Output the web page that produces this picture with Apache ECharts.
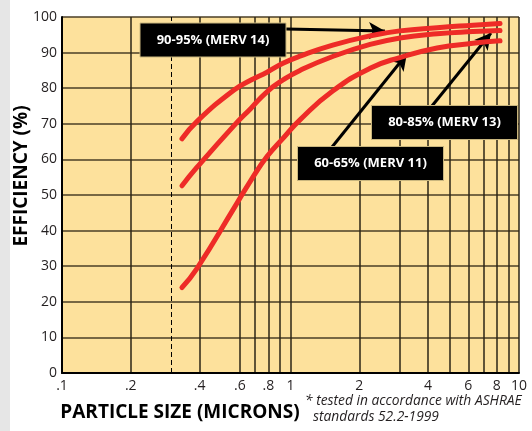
<!DOCTYPE html>
<html>
<head>
<meta charset="utf-8">
<title>MERV efficiency</title>
<script src="https://cdn.jsdelivr.net/npm/echarts@6/dist/echarts.min.js"></script>
<style>
html, body { margin: 0; padding: 0; background: #fff; }
#chart { width: 532px; height: 431px; }
</style>
</head>
<body>
<div id="chart"></div>
<script>
var sizes = [0.335, 0.39, 0.566, 0.672, 0.789, 0.927, 1.1, 1.53, 2.23, 3.01, 4.38, 6.29, 8.26];
// efficiency (%) per filter
var merv14 = [65.8, 70.7, 79.5, 82.3, 84.5, 87.0, 89.0, 92.1, 94.7, 96.1, 97.0, 97.7, 98.2];
var merv13 = [52.6, 57.8, 69.5, 74.4, 79.0, 82.3, 85.0, 88.9, 92.3, 94.1, 95.3, 95.9, 96.2];
var merv11 = [24.0, 29.4, 46.3, 54.2, 60.8, 65.9, 71.1, 79.2, 85.6, 88.6, 91.3, 92.6, 93.3];
// grid lines and labels of the log axis
var gridTicks = [0.1, 0.2, 0.4, 0.6, 0.7, 0.8, 0.9, 1, 2, 3, 4, 5, 6, 7, 8, 9, 10];
var xLabels = [0.1, 0.2, 0.4, 0.6, 0.8, 1, 2, 4, 6, 8, 10];

var myChart = echarts.init(document.getElementById('chart'));

function pairs(ys) {
	return sizes.map(function(x, i) {
		return [x, ys[i]];
	});
}

var FONT = 'Open Sans';
var RED = '#ee2b27';

var arrowStyle = {
	silent: true,
	symbol: ['none', 'arrow'],
	symbolSize: [13, 16],
	label: { show: false },
	lineStyle: { color: '#000', width: 3, type: 'solid' },
	emphasis: { disabled: true }
};

function curve(name, ys, markLine) {
	return {
		name: name,
		type: 'line',
		data: pairs(ys),
		smooth: true,
		showSymbol: false,
		silent: true,
		z: 5,
		lineStyle: { color: RED, width: 5, cap: 'round' },
		markLine: markLine
	};
}

// black label box (drawn over the arrow tails)
function box(cx, cy, text) {
	return {
		type: 'group',
		children: [{
			type: 'rect',
			z: 100,
			shape: { x: cx - 73, y: cy - 17, width: 146, height: 34 },
			style: { fill: '#000', stroke: '#c9b67e', lineWidth: 1 }
		}, {
			type: 'text',
			z: 101,
			x: cx,
			y: cy,
			style: {
				text: text,
				fill: '#fff',
				font: 'bold 13px "' + FONT + '"',
				textAlign: 'center',
				textVerticalAlign: 'middle'
			}
		}]
	};
}

var option = {
	animation: false,
	backgroundColor: '#fff',
	grid: {
		left: 62,
		right: 13,
		top: 17,
		bottom: 58,
		show: true,
		backgroundColor: '#fde19c',
		borderWidth: 0
	},
	xAxis: {
		type: 'log',
		logBase: 10,
		min: 0.1,
		max: 10,
		axisLine: { show: true, lineStyle: { color: '#000', width: 2 } },
		axisTick: { show: false, customValues: gridTicks },
		splitLine: { show: true, lineStyle: { color: '#2b2416', width: 1.5 } },
		axisLabel: {
			customValues: xLabels,
			color: '#231f20',
			fontFamily: FONT,
			fontSize: 14,
			margin: 6,
			formatter: function(v) {
				var s = String(+(+v).toFixed(1));
				return v < 1 ? s.replace('0.', '.') : s;
			}
		}
	},
	yAxis: {
		type: 'value',
		min: 0,
		max: 100,
		interval: 10,
		axisLine: { show: true, lineStyle: { color: '#000', width: 2 } },
		axisTick: { show: false },
		splitLine: { show: true, lineStyle: { color: '#4a3e26', width: 1.5 } },
		axisLabel: { color: '#231f20', fontFamily: FONT, fontSize: 14, margin: 5 }
	},
	series: [
		curve('90-95% (MERV 14)', merv14, Object.assign({
			data: [[{ coord: [0.956, 96.6] }, { coord: [2.59, 96.1] }]]
		}, arrowStyle)),
		curve('80-85% (MERV 13)', merv13, Object.assign({
			data: [[{ coord: [4.16, 75.0] }, { coord: [7.54, 95.5] }]]
		}, arrowStyle)),
		curve('60-65% (MERV 11)', merv11, Object.assign({
			data: [[{ coord: [1.52, 63.5] }, { coord: [3.23, 89.6] }]]
		}, arrowStyle)),
		{
			// dashed marker at 0.3 micron
			type: 'line',
			data: [],
			silent: true,
			markLine: {
				silent: true,
				symbol: 'none',
				label: { show: false },
				lineStyle: { color: '#000', width: 1, type: [5, 3] },
				data: [{ xAxis: 0.3 }]
			}
		}
	],
	graphic: [{
		type: 'rect',
		z: -1,
		shape: { x: 0, y: 0, width: 10, height: 431 },
		style: { fill: '#e6e6e6' }
	},
	box(213, 40, '90-95% (MERV 14)'),
	box(444.5, 122.5, '80-85% (MERV 13)'),
	box(370.5, 163.5, '60-65% (MERV 11)'),
	{
		type: 'text',
		x: 22,
		y: 176,
		rotation: Math.PI / 2,
		style: {
			text: 'EFFICIENCY (%)',
			fill: '#000',
			font: 'bold 19px "' + FONT + '"',
			textAlign: 'center',
			textVerticalAlign: 'middle'
		}
	}, {
		type: 'text',
		x: 180,
		y: 413,
		style: {
			text: 'PARTICLE SIZE (MICRONS)',
			fill: '#000',
			font: 'bold 19px "' + FONT + '"',
			textAlign: 'center',
			textVerticalAlign: 'middle'
		}
	}, {
		type: 'text',
		x: 305,
		y: 401,
		style: {
			text: '* tested in accordance with ASHRAE',
			fill: '#231f20',
			font: 'italic 13.8px "' + FONT + '"',
			textVerticalAlign: 'middle'
		}
	}, {
		type: 'text',
		x: 313,
		y: 417,
		style: {
			text: 'standards 52.2-1999',
			fill: '#231f20',
			font: 'italic 13.8px "' + FONT + '"',
			textVerticalAlign: 'middle'
		}
	}]
};

myChart.setOption(option);
</script>
</body>
</html>
